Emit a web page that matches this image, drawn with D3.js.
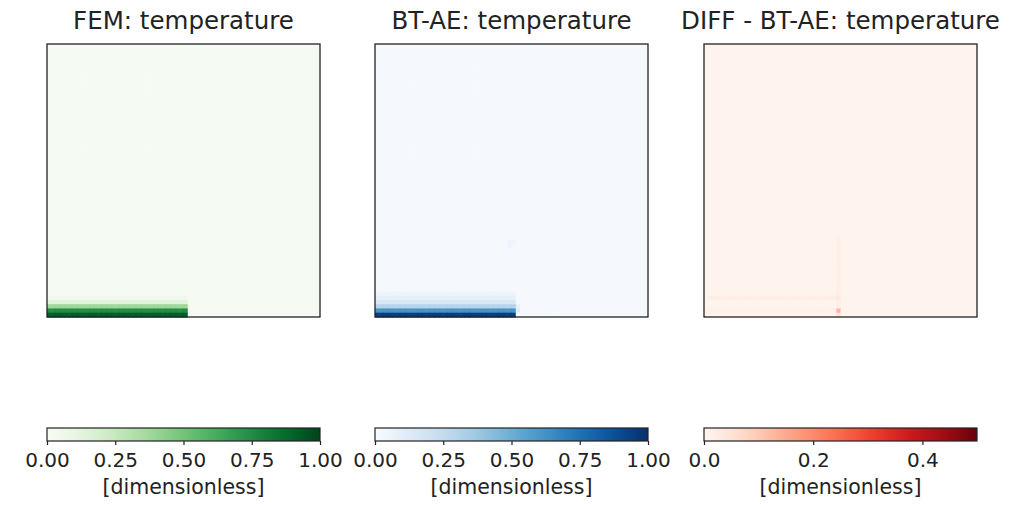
<!DOCTYPE html>
<html>
<head>
<meta charset="utf-8">
<script src="https://cdn.jsdelivr.net/npm/d3@7"></script>
<style>
  body { margin: 0; background: #fff; }
  text { font-family: "DejaVu Sans", sans-serif; fill: #222; }
</style>
</head>
<body>
<svg id="chart" width="1031" height="505"></svg>
<script>
// Panel titles and colour bar settings
const titles = ["FEM: temperature", "BT-AE: temperature", "DIFF - BT-AE: temperature"];
const colorDomains = [[0, 1], [0, 1], [0, 0.5]];
const tickValues = [[0, 0.25, 0.5, 0.75, 1], [0, 0.25, 0.5, 0.75, 1], [0, 0.2, 0.4]];
const tickFormats = [".2f", ".2f", ".1f"];
const unitLabel = "[dimensionless]";

// Field grid (64 x 64 cells)
const gridSize = 64;

// FEM: hot strip along the bottom left edge
const femBackground = 0.012;
const femStripEnd = 33;                           // columns covered by the strip
const femStripProfile = [0.92, 0.75, 0.38, 0.14, 0.05]; // bottom row upwards

// BT-AE: same strip, a bit blurred, plus a faint smudge
const btBackground = 0.012;
const btStripEnd = 33;
const btStripProfile = [0.95, 0.62, 0.3, 0.15, 0.09, 0.05];
const btSpots = [[31, 46, 0.05], [32, 46, 0.045], [31, 47, 0.045], [33, 62, 0.12], [33, 61, 0.08]];

// DIFF: faint cross lines and one hot dot
const diffBackground = 0.006;
const diffHRow = 59, diffHFrom = 1, diffHTo = 31, diffHValue = 0.022;
const diffBottomRow = 62, diffBottomValue = 0.016;
const diffVCol = 31, diffVFrom = 45, diffVTo = 62, diffVValue = 0.02;
const diffSpots = [[31, 62, 0.13], [31, 63, 0.05], [31, 59, 0.04]];

function buildField(bg, stripEnd, profile, spots) {
  const cells = [];
  for (let r = 0; r < gridSize; r++) {
    for (let c = 0; c < gridSize; c++) {
      let v = bg;
      const fromBottom = gridSize - 1 - r;
      if (profile && c < stripEnd && fromBottom < profile.length) v = profile[fromBottom];
      cells.push({ r, c, v });
    }
  }
  spots.forEach(([c, r, v]) => { cells[r * gridSize + c].v = v; });
  return cells;
}

const femCells = buildField(femBackground, femStripEnd, femStripProfile, []);
const btCells = buildField(btBackground, btStripEnd, btStripProfile, btSpots);
const diffCells = buildField(diffBackground, 0, null, diffSpots);
diffCells.forEach(d => {
  if (d.r === diffHRow && d.c >= diffHFrom && d.c <= diffHTo) d.v = Math.max(d.v, diffHValue);
  if (d.r === diffBottomRow && d.c <= diffHTo) d.v = Math.max(d.v, diffBottomValue);
  if (d.c === diffVCol && d.r >= diffVFrom && d.r <= diffVTo) d.v = Math.max(d.v, diffVValue);
});

const fields = [femCells, btCells, diffCells];
const interpolators = [d3.interpolateGreens, d3.interpolateBlues, d3.interpolateReds];

// Layout
const panelLeft = [47, 375, 704];
const panelTop = 44;
const panelSize = 273;
const barTop = 428;
const barHeight = 13;

const svg = d3.select("#chart");
const idx = d3.range(gridSize);

panelLeft.forEach((left, i) => {
  const x = d3.scaleBand().domain(idx).range([left, left + panelSize]);
  const y = d3.scaleBand().domain(idx).range([panelTop, panelTop + panelSize]);
  const color = d3.scaleSequential(interpolators[i]).domain(colorDomains[i]).clamp(true);

  const g = svg.append("g");

  g.selectAll("rect.cell")
    .data(fields[i])
    .enter()
    .append("rect")
    .attr("class", "cell")
    .attr("x", d => x(d.c))
    .attr("y", d => y(d.r))
    .attr("width", x.bandwidth() + 0.5)
    .attr("height", y.bandwidth() + 0.5)
    .attr("fill", d => color(d.v));

  g.append("rect")
    .attr("x", left)
    .attr("y", panelTop)
    .attr("width", panelSize)
    .attr("height", panelSize)
    .attr("fill", "none")
    .attr("stroke", "#222")
    .attr("stroke-width", 1.3);

  g.append("text")
    .attr("x", left + panelSize / 2)
    .attr("y", 29)
    .attr("text-anchor", "middle")
    .style("font-size", "24.5px")
    .text(titles[i]);

  // Colour bar
  const gradId = "grad" + i;
  const grad = svg.append("defs").append("linearGradient").attr("id", gradId);
  d3.range(0, 1.0001, 0.05).forEach(t => {
    grad.append("stop")
      .attr("offset", t)
      .attr("stop-color", interpolators[i](t));
  });

  const cx = d3.scaleLinear().domain(colorDomains[i]).range([left, left + panelSize]);

  g.append("rect")
    .attr("x", left)
    .attr("y", barTop)
    .attr("width", panelSize)
    .attr("height", barHeight)
    .attr("fill", `url(#${gradId})`)
    .attr("stroke", "#222")
    .attr("stroke-width", 1.2);

  const axis = g.append("g")
    .attr("transform", `translate(0,${barTop + barHeight})`)
    .call(d3.axisBottom(cx)
      .tickValues(tickValues[i])
      .tickFormat(d3.format(tickFormats[i]))
      .tickSize(4)
      .tickPadding(8));
  axis.select(".domain").remove();
  axis.selectAll("line").attr("stroke", "#222").attr("stroke-width", 1.2);
  axis.selectAll("text")
    .style("font-family", "DejaVu Sans, sans-serif")
    .style("font-size", "20px")
    .attr("fill", "#222");

  g.append("text")
    .attr("x", left + panelSize / 2)
    .attr("y", 494)
    .attr("text-anchor", "middle")
    .style("font-size", "20.5px")
    .text(unitLabel);
});
</script>
</body>
</html>
